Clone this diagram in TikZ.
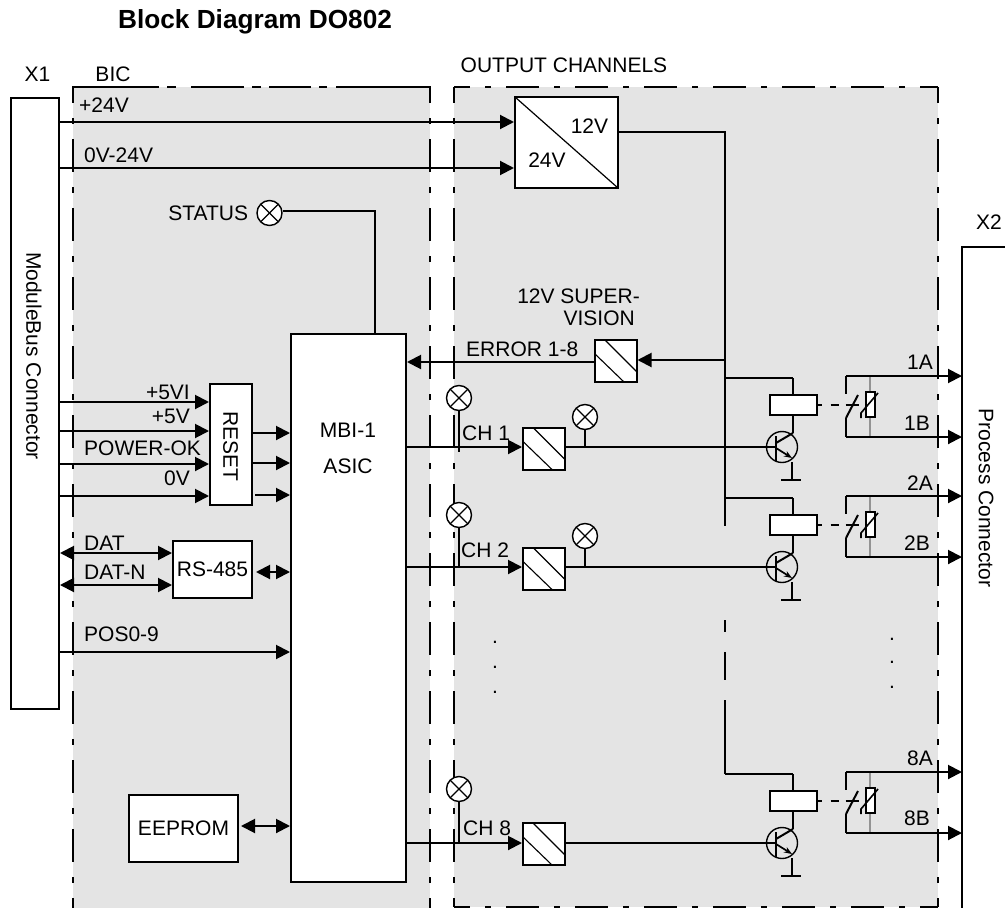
\documentclass[tikz,border=0pt]{standalone}
\usepackage{fontspec}
\setmainfont{Liberation Sans}
\usetikzlibrary{arrows.meta,calc,positioning}

\definecolor{panelgray}{gray}{0.895}
\tikzset{
  sig/.style={line width=2pt, -{Triangle[length=14pt,width=14pt]}},
  both/.style={line width=2pt, {Triangle[length=14pt,width=14pt]}-{Triangle[length=14pt,width=14pt]}},
  wire/.style={line width=2pt},
  panelline/.style={line width=2pt, dash pattern=on 33pt off 15pt on 6pt off 15pt, dash phase=17pt},
  box/.style={draw, line width=2pt, fill=white, inner sep=0pt},
  filterbox/.style={box, minimum size=42pt, path picture={
    \draw[line width=1.1pt] ($(path picture bounding box.north west)+(10,0)$) -- ($(path picture bounding box.south east)+(0,-10)$);
    \draw[line width=1.1pt] ($(path picture bounding box.north west)+(0,14)$) -- ($(path picture bounding box.south east)+(-13,0)$);}},
  lamp/.style={circle, draw, line width=1.4pt, fill=white, minimum size=25pt, inner sep=0pt, path picture={
    \draw[line width=1.1pt] (path picture bounding box.north west) -- (path picture bounding box.south east);
    \draw[line width=1.1pt] (path picture bounding box.north east) -- (path picture bounding box.south west);}},
  lab/.style={inner sep=0pt},
  relayout/.pic={
    % origin = centre of the transistor
    \node[box, minimum width=47pt, minimum height=20pt] (-coil) at (11,-42) {};
    \node[circle, draw, line width=1.4pt, minimum size=31pt, inner sep=0pt] (-tr) at (0,0) {};
    \coordinate (-base) at (-6,0);
    \coordinate (-top) at (11,-69);
    \coordinate (-a) at (64,-71);
    \coordinate (-b) at (64,-10);
    \draw[wire] (-coil.north) -- (-top);
    \draw[wire] (-coil.south) -- (11,-14);
    \draw[wire] (11,-14) -- (-6,-4);
    \draw[line width=2.4pt] (-6,-11) -- (-6,14);
    \draw[line width=1.7pt, -{Stealth[length=8pt,width=6pt]}] (-6,1) -- (10,11);
    \draw[wire] (10,15) -- (10,33);
    \draw[wire] (-1,33) -- (19,33);
    % contact and varistor
    \draw[wire, dash pattern=on 4pt off 9pt on 8pt off 7pt on 12pt off 0pt] (-coil.east) -- (76,-42);
    \draw[wire] (64,-71) -- (64,-53);
    \draw[wire] (64,-29) -- (64,-10);
    \draw[wire] (64,-29) -- (76,-52);
    \draw[line width=1.4pt, color=gray!85] (88,-71) -- (88,-10);
    \node[draw, line width=1.2pt, fill=white, minimum width=9pt, minimum height=25pt, inner sep=0pt] (-var) at (88.5,-42.5) {};
    \draw[line width=1.6pt] (79,-29) -- (79,-34) -- (96,-54);
  }
}

\begin{document}
\begin{tikzpicture}[x=1pt, y=-1pt, font=\fontsize{21}{24}\selectfont]
  \useasboundingbox (0,0) rectangle (1005,908);

  % Panels: BIC stays open at the bottom.
  \path[fill=panelgray] (73,87) rectangle (430,908);
  \path[fill=panelgray] (454,87) rectangle (938,907);
  \draw[panelline] (73,87) -- (73,908);
  \draw[panelline] (430,87) -- (430,908);
  \draw[line width=2pt, dash pattern=on 87pt off 8pt on 9pt off 15pt on 53pt off 8pt on 9pt off 8pt on 42pt off 8pt on 8pt off 9pt on 93pt off 0pt] (72,87) -- (431,87);
  \draw[panelline] (454,87) -- (454,907);
  \draw[panelline] (454,87) -- (938,87);
  \draw[panelline] (938,87) -- (938,907);
  \draw[panelline] (454,907) -- (938,907);

  % Headings.
  \node[lab, anchor=west] (title) at (118,22) {\fontsize{26.2}{30}\selectfont\bfseries Block Diagram DO802};
  \node[lab] (x1lab) at (37.5,74) {X1};
  \node[lab] (biclab) at (113,74) {BIC};
  \node[lab] (outlab) at (564,65) {OUTPUT CHANNELS};
  \node[lab] (x2lab) at (989,222) {X2};

  % Connectors.
  \node[box, anchor=north west, minimum width=48pt, minimum height=611pt] (x1) at (10,97) {};
  \node[lab, rotate=-90] (x1name) at (34,356) {ModuleBus Connector};
  \coordinate (x2) at (962,247);
  \coordinate (x2end) at (1005,247);
  \draw[wire] (x2end) -- (x2) -- (962,908);
  \node[lab, rotate=-90] (x2name) at (986,498) {Process Connector};

  % Blocks.
  \node[box, anchor=north west, minimum width=103pt, minimum height=91pt, path picture={
    \draw[line width=1.2pt] (path picture bounding box.north west) -- (path picture bounding box.south east);}] (conv) at (514,96) {};
  \node[lab] (conv12) at (589.5,126) {12V};
  \node[lab] (conv24) at (547,160) {24V};
  \node[box, anchor=north west, minimum width=115pt, minimum height=548pt] (asic) at (290,333) {};
  \node[lab] (asicname1) at (348,430) {MBI-1};
  \node[lab] (asicname2) at (348,466) {ASIC};
  \node[box, anchor=north west, minimum width=42pt, minimum height=121pt] (reset) at (209,383) {};
  \node[lab, rotate=-90] (resetname) at (230.5,446.5) {RESET};
  \node[box, anchor=north west, minimum width=79pt, minimum height=57pt] (rs) at (172,540) {RS-485};
  \node[box, anchor=north west, minimum width=109pt, minimum height=67pt] (eeprom) at (128,794) {EEPROM};
  \node[filterbox] (sup) at (615.5,360.5) {};
  \node[filterbox] (ch1) at (544,448.5) {};
  \node[filterbox] (ch2) at (544,568.5) {};
  \node[filterbox] (ch8) at (544,844) {};

  % Lamps.
  \node[lamp] (statuslamp) at (269.5,213) {};
  \node[lab, anchor=east, xshift=-8pt] (status) at (statuslamp.west) {STATUS};
  \node[lamp] (lampin1) at (459,398) {};
  \node[lamp] (lampin2) at (459,515) {};
  \node[lamp] (lampin8) at (459,789) {};
  \node[lamp] (lampout1) at (585,417) {};
  \node[lamp] (lampout2) at (585,536) {};

  % Power and supervision.
  \draw[sig] (x1.east |- 0,122) -- (conv.west |- 0,122);
  \draw[sig] (x1.east |- 0,168) -- (conv.west |- 0,168);
  \node[lab, anchor=west] (p24) at (79,105) {+24V};
  \node[lab, anchor=west] (m24) at (84,155) {0V-24V};
  \coordinate (rail) at (725,132);
  \draw[wire] (conv.east |- rail) -- (rail) -- (725,526);
  \draw[wire] (725,620) -- (725,632);
  \draw[wire] (725,652) -- (725,680);
  \draw[wire] (725,700) -- (725,774);
  \draw[sig] (725,360) -- (sup.east |- 0,360);
  \draw[sig] (sup.west |- 0,362) -- (asic.east |- 0,362);
  \node[lab, anchor=west] (errorlab) at (466,349) {ERROR 1-8};
  \node[lab, anchor=east] (suplab1) at (640,296) {12V SUPER-};
  \node[lab, anchor=east] (suplab2) at (635,318) {VISION};
  \draw[wire] (statuslamp.east |- 0,211) -| (asic.north -| 375,0);

  % Left side inputs.
  \draw[sig] (x1.east |- 0,402) -- (reset.west |- 0,402);
  \draw[sig] (x1.east |- 0,431) -- (reset.west |- 0,431);
  \draw[sig] (x1.east |- 0,464) -- (reset.west |- 0,464);
  \draw[sig] (x1.east |- 0,496) -- (reset.west |- 0,496);
  \node[lab, anchor=east] (l5vi) at (190,392) {+5VI};
  \node[lab, anchor=east] (l5v) at (190,416) {+5V};
  \node[lab, anchor=west] (lpok) at (84,448) {POWER-OK};
  \node[lab, anchor=east] (l0v) at (190,478) {0V};
  \draw[sig] (reset.east |- 0,433) -- (asic.west |- 0,433);
  \draw[sig] (reset.east |- 0,463) -- (asic.west |- 0,463);
  \draw[sig] ([xshift=2pt]reset.east |- 0,495) -- (asic.west |- 0,495);
  \draw[both] (x1.east |- 0,553) -- (rs.west |- 0,553);
  \draw[both] (x1.east |- 0,585) -- (rs.west |- 0,585);
  \node[lab, anchor=west] (ldat) at (84,543) {DAT};
  \node[lab, anchor=west] (ldatn) at (84,572) {DAT-N};
  \draw[both] ([xshift=3pt]rs.east |- 0,572) -- (asic.west |- 0,572);
  \draw[sig] (x1.east |- 0,652) -- (asic.west |- 0,652);
  \node[lab, anchor=west] (lpos) at (84,634) {POS0-9};
  \draw[both] ([xshift=2pt]eeprom.east |- 0,826) -- (asic.west |- 0,826);

  % Output channels.
  \pic (r1) at (782,447) {relayout};
  \pic (r2) at (782,567) {relayout};
  \pic (r8) at (782,843) {relayout};
  \draw[wire] (rail |- r1-top) -- (r1-top);
  \draw[wire] (rail |- r2-top) -- (r2-top);
  \draw[wire] (rail |- r8-top) -- (r8-top);

  \draw[sig] (asic.east |- r1-base) -- (ch1.west |- r1-base);
  \draw[sig] (asic.east |- r2-base) -- (ch2.west |- r2-base);
  \draw[sig] (asic.east |- r8-base) -- (ch8.west |- r8-base);
  \draw[wire] (ch1.east |- r1-base) -- (r1-base);
  \draw[wire] (ch2.east |- r2-base) -- (r2-base);
  \draw[wire] (ch8.east |- r8-base) -- (r8-base);
  \draw[wire] (lampin1.south) -- (lampin1 |- 0,452);
  \draw[wire] (lampin2.south) -- (lampin2 |- 0,568);
  \draw[wire] (lampin8.south) -- (lampin8 |- 0,844);
  \draw[wire] (lampout1.south) -- (lampout1 |- r1-base);
  \draw[wire] (lampout2.south) -- (lampout2 |- r2-base);
  \node[lab, anchor=west] (lch1) at (462,433) {CH 1};
  \node[lab, anchor=west] (lch2) at (461,550) {CH 2};
  \node[lab, anchor=west] (lch8) at (463,828) {CH 8};

  \draw[sig] (r1-a) -- (x2 |- r1-a);
  \draw[sig] (r1-b) -- (x2 |- r1-b);
  \draw[sig] (r2-a) -- (x2 |- r2-a);
  \draw[sig] (r2-b) -- (x2 |- r2-b);
  \draw[sig] (r8-a) -- (x2 |- r8-a);
  \draw[sig] (r8-b) -- (x2 |- r8-b);
  \node[lab, anchor=east] (l1a) at (933,362) {1A};
  \node[lab, anchor=east] (l1b) at (930,423) {1B};
  \node[lab, anchor=east] (l2a) at (933,483) {2A};
  \node[lab, anchor=east] (l2b) at (930,543) {2B};
  \node[lab, anchor=east] (l8a) at (933,758) {8A};
  \node[lab, anchor=east] (l8b) at (930,818) {8B};

  % Dots between the channels.
  \node[lab] (dot1) at (495,642) {.};
  \node[lab] (dot2) at (495,667) {.};
  \node[lab] (dot3) at (495,692) {.};
  \node[lab] (dot4) at (892,639) {.};
  \node[lab] (dot5) at (892,662) {.};
  \node[lab] (dot6) at (892,687) {.};
\end{tikzpicture}
\end{document}
